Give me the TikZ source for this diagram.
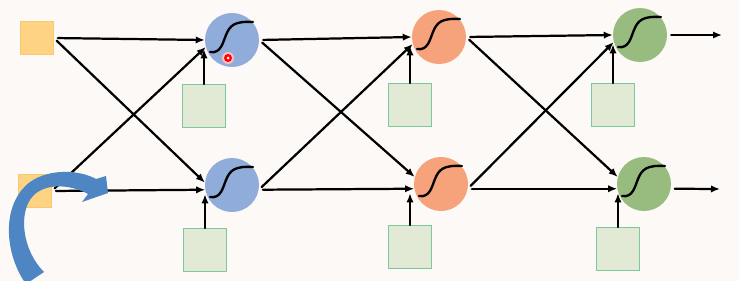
\documentclass[tikz,border=0pt]{standalone}
\usetikzlibrary{arrows.meta}
\begin{document}
\begin{tikzpicture}[
    x=0.3mm, y=-0.3mm,
    line join=round,
    line cap=round,
    neuron/.style={circle, draw=none, minimum size=16.2mm, inner sep=0pt},
    inbox/.style={draw=inedge, fill=infill, line width=0.6pt, minimum size=9.9mm, inner sep=0pt},
    biasbox/.style={draw=biasedge, fill=biasfill, line width=0.8pt, minimum size=12.9mm, inner sep=0pt},
    wire/.style={draw=black, line width=1.9pt, -{Latex[length=2.7mm,width=2.2mm]}, shorten <=1.2mm},
    biaswire/.style={wire, shorten <=0pt},
    sigline/.style={draw=black, line width=2pt}
]

% Colors
\definecolor{bgcol}{RGB}{252,249,246}
\definecolor{infill}{RGB}{254,212,132}
\definecolor{inedge}{RGB}{250,200,110}
\definecolor{biasfill}{RGB}{226,234,214}
\definecolor{biasedge}{RGB}{120,200,160}
\definecolor{bluecell}{RGB}{143,172,218}
\definecolor{orangecell}{RGB}{246,163,124}
\definecolor{greencell}{RGB}{152,188,128}
\definecolor{arrowblue}{RGB}{78,134,195}

% ----------------------------------------------------
% Canvas
% ----------------------------------------------------
\fill[bgcol] (0,0) rectangle (739,281);
\useasboundingbox (0,0) rectangle (739,281);

% ----------------------------------------------------
% Sigmoid glyph inside a neuron
% ----------------------------------------------------
\newcommand{\sigmoid}[1]{%
\begin{scope}[shift={(#1.center)}]
\draw[sigline] (-22,12)
.. controls (-11,14) and (-9,2) .. (-6,-5)
.. controls (-2,-15) and (3,-19) .. (21,-18);
\end{scope}
}

% ----------------------------------------------------
% Inputs
% ----------------------------------------------------
\node[inbox] (x1) at (37,38) {};
\node[inbox] (x2) at (35,191) {};

% ----------------------------------------------------
% Neurons
% ----------------------------------------------------
\node[neuron, fill=bluecell] (h11) at (232,40) {};
\node[neuron, fill=bluecell] (h12) at (232,185) {};
\node[neuron, fill=orangecell] (h21) at (439,37) {};
\node[neuron, fill=orangecell] (h22) at (441,184) {};
\node[neuron, fill=greencell] (h31) at (640,35) {};
\node[neuron, fill=greencell] (h32) at (644,184) {};

\sigmoid{h11}
\sigmoid{h12}
\sigmoid{h21}
\sigmoid{h22}
\sigmoid{h31}
\sigmoid{h32}

% ----------------------------------------------------
% Bias boxes
% ----------------------------------------------------
\node[biasbox] (b11) at (204,106) {};
\node[biasbox] (b12) at (205,250) {};
\node[biasbox] (b21) at (410,105) {};
\node[biasbox] (b22) at (410,247) {};
\node[biasbox] (b31) at (613,105) {};
\node[biasbox] (b32) at (618,249) {};

\coordinate (o1) at (722,35);
\coordinate (o2) at (720,189);

% ----------------------------------------------------
% Connections
% ----------------------------------------------------
\draw[wire] (x1.east) -- (h11.west);
\draw[wire] (x1.east) -- (h12.175);
\draw[wire] (x2.east) -- (h11.195);
\draw[wire] (x2.east) -- (h12.190);

\draw[wire] (h11.east) -- (h21.west);
\draw[wire] (h11.east) -- (h22.165);
\draw[wire] (h12.-10) -- (h21.195);
\draw[wire] (h12.-10) -- (h22.190);

\draw[wire] (h21.east) -- (h31.west);
\draw[wire] (h21.east) -- (h32.165);
\draw[wire] (h22.-10) -- (h31.195);
\draw[wire] (h22.-10) -- (h32.190);

\draw[wire] (h31.east) -- (o1);
\draw[wire] (h32.-10) -- (o2);

\draw[biaswire] (b11.north) -- (b11.north |- h11.200);
\draw[biaswire] (b12.north) -- (b12.north |- h12.200);
\draw[biaswire] (b21.north) -- (b21.north |- h21.200);
\draw[biaswire] (b22.north) -- (b22.north |- h22.200);
\draw[biaswire] (b31.north) -- (b31.north |- h31.200);
\draw[biaswire] (b32.north) -- (b32.north |- h32.200);

% ----------------------------------------------------
% Pointer dot and curved block arrow
% ----------------------------------------------------
\fill[red!25] (228,58) circle (1.8mm);
\fill[red] (228,58) circle (1.2mm);
\fill[white] (228,58) circle (0.45mm);

\path[fill=arrowblue]
(26,284)
.. controls (5,255) and (0,205) .. (30,182)
.. controls (50,168) and (80,170) .. (96,179)
-- (106,176) -- (108,193) -- (82,202) -- (88,194)
.. controls (70,184) and (45,183) .. (33,196)
.. controls (18,212) and (22,250) .. (44,272)
-- cycle;

\end{tikzpicture}
\end{document}
